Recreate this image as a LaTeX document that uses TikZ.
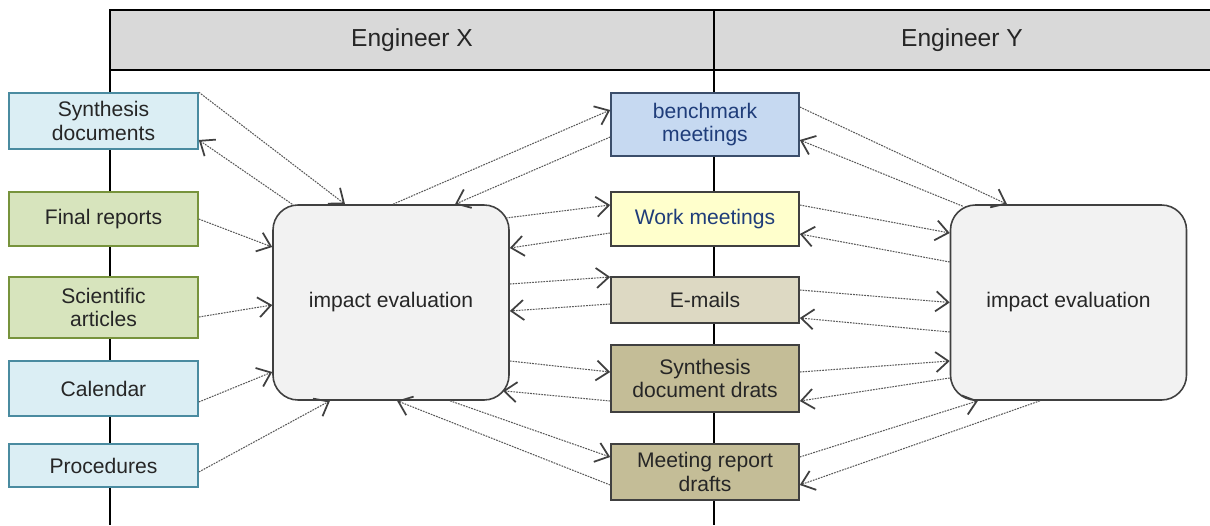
\documentclass[tikz,border=0pt]{standalone}
\usepackage{fontspec}
\setmainfont{Liberation Sans}
\usetikzlibrary{arrows.meta}
\usetikzlibrary{calc}
\definecolor{bandGray}{HTML}{D9D9D9}
\definecolor{blueFill}{HTML}{DBEEF4}
\definecolor{blueEdge}{HTML}{4A8BA0}
\definecolor{greenFill}{HTML}{D7E4BD}
\definecolor{greenEdge}{HTML}{77933C}
\definecolor{benchFill}{HTML}{C6D9F1}
\definecolor{benchEdge}{HTML}{3B4E6B}
\definecolor{workFill}{HTML}{FFFFCC}
\definecolor{mailFill}{HTML}{DDD9C3}
\definecolor{draftFill}{HTML}{C4BD97}
\definecolor{evalFill}{HTML}{F2F2F2}
\definecolor{navyText}{HTML}{1F3D7A}
\definecolor{darkEdge}{HTML}{404040}
\tikzset{box/.style={rectangle,line width=0.9pt,align=center,inner sep=0pt,text=black!85,font=\fontsize{12}{13.5}\selectfont}}
\tikzset{evalbox/.style={box,rounded corners=0.5cm,fill=evalFill,draw=darkEdge,minimum width=4.72cm,minimum height=3.9cm}}
\tikzset{flow/.style={draw=gray!70!black,line width=0.6pt,dash pattern=on 1pt off 0.6pt,-{Straight Barb[length=2.5mm,width=4mm,line width=1pt,color=black!75]}}}
\tikzset{lane/.style={line width=1.4pt,black}}

\begin{document}
\begin{tikzpicture}
\useasboundingbox (0,0) rectangle (24.2,10.5);

\draw [lane, fill=bandGray] (2.2,9.1) rectangle (24.6,10.3);
\draw [lane] (2.2,10.3) -- (2.2,0);
\draw [lane] (14.28,10.3) -- (14.28,0);
\node (HX) at (8.24,9.7) [font=\fontsize{14}{16}\selectfont,text=black!85] {Engineer X};
\node (HY) at (19.24,9.7) [font=\fontsize{14}{16}\selectfont,text=black!85] {Engineer Y};

\node (L1) at (2.07,8.08) [box,fill=blueFill,draw=blueEdge,minimum width=3.78cm,minimum height=1.12cm] {Synthesis\\documents};
\node (L2) at (2.07,6.12) [box,fill=greenFill,draw=greenEdge,minimum width=3.78cm,minimum height=1.08cm] {Final reports};
\node (L3) at (2.07,4.35) [box,fill=greenFill,draw=greenEdge,minimum width=3.78cm,minimum height=1.22cm] {Scientific\\articles};
\node (L4) at (2.07,2.73) [box,fill=blueFill,draw=blueEdge,minimum width=3.78cm,minimum height=1.1cm] {Calendar};
\node (L5) at (2.07,1.19) [box,fill=blueFill,draw=blueEdge,minimum width=3.78cm,minimum height=0.86cm] {Procedures};

\node (X) at (7.82,4.45) [evalbox] {impact evaluation};
\node (Y) at (21.37,4.45) [evalbox] {impact evaluation};

\node (M1) at (14.1,8.01) [box,fill=benchFill,draw=benchEdge,text=navyText,minimum width=3.76cm,minimum height=1.26cm] {benchmark\\meetings};
\node (M2) at (14.1,6.12) [box,fill=workFill,draw=darkEdge,text=navyText,minimum width=3.76cm,minimum height=1.08cm] {Work meetings};
\node (M3) at (14.1,4.5) [box,fill=mailFill,draw=darkEdge,minimum width=3.76cm,minimum height=0.92cm] {E-mails};
\node (M4) at (14.1,2.93) [box,fill=draftFill,draw=darkEdge,minimum width=3.76cm,minimum height=1.34cm] {Synthesis\\document drats};
\node (M5) at (14.1,1.06) [box,fill=draftFill,draw=darkEdge,minimum width=3.76cm,minimum height=1.12cm] {Meeting report\\drafts};

\draw [flow] (L1.north east) -- ([xshift=-9.2mm]X.north);
\draw [flow] ([xshift=4mm]X.north west) -- ([yshift=-3.8mm]L1.east);
\draw [flow] (L2.east) -- ([yshift=11.1mm]X.west);
\draw [flow] ([yshift=-1.9mm]L3.east) -- ([yshift=-0.5mm]X.west);
\draw [flow] ([yshift=-2.7mm]L4.east) -- ([yshift=-13.9mm]X.west);
\draw [flow] ([yshift=-1.3mm]L5.east) -- ([xshift=-12.2mm]X.south);

\draw [flow] ([xshift=0.4mm]X.north) -- ([yshift=2.9mm]M1.west);
\draw [flow] ([yshift=-2.5mm]M1.west) -- ([xshift=12.8mm]X.north);
\draw [flow] ([xshift=-0.8mm,yshift=16.9mm]X.east) -- ([yshift=2.8mm]M2.west);
\draw [flow] ([yshift=-2.8mm]M2.west) -- ([yshift=10.9mm]X.east);
\draw [flow] ([yshift=3.7mm]X.east) -- ([yshift=4.6mm]M3.west);
\draw [flow] ([yshift=-0.8mm]M3.west) -- ([yshift=-1.7mm]X.east);
\draw [flow] ([yshift=-11.7mm]X.east) -- ([yshift=1.3mm]M4.west);
\draw [flow] ([yshift=-4.5mm]M4.west) -- ([xshift=-1.4mm,yshift=2mm]X.south east);
\draw [flow] ([xshift=11.8mm]X.south) -- ([yshift=3mm]M5.west);
\draw [flow] ([yshift=-2.6mm]M5.west) -- ([xshift=1.2mm]X.south);

\draw [flow] ([yshift=3.5mm]M1.east) -- ([xshift=-12.3mm]Y.north);
\draw [flow] ([xshift=2.6mm,yshift=-0.4mm]Y.north west) -- ([yshift=-3.1mm]M1.east);
\draw [flow] ([yshift=2.8mm]M2.east) -- ([yshift=13.9mm]Y.west);
\draw [flow] ([yshift=8.1mm]Y.west) -- ([yshift=-3mm]M2.east);
\draw [flow] ([yshift=2mm]M3.east) -- (Y.west);
\draw [flow] ([yshift=-5.9mm]Y.west) -- ([yshift=-3.6mm]M3.east);
\draw [flow] ([yshift=1.3mm]M4.east) -- ([yshift=-11.7mm]Y.west);
\draw [flow] ([yshift=-15.1mm]Y.west) -- ([yshift=-4.5mm]M4.east);
\draw [flow] ([yshift=3mm]M5.east) -- ([xshift=-18.1mm]Y.south);
\draw [flow] ([xshift=-5.7mm]Y.south) -- ([yshift=-2.6mm]M5.east);

\end{tikzpicture}
\end{document}
